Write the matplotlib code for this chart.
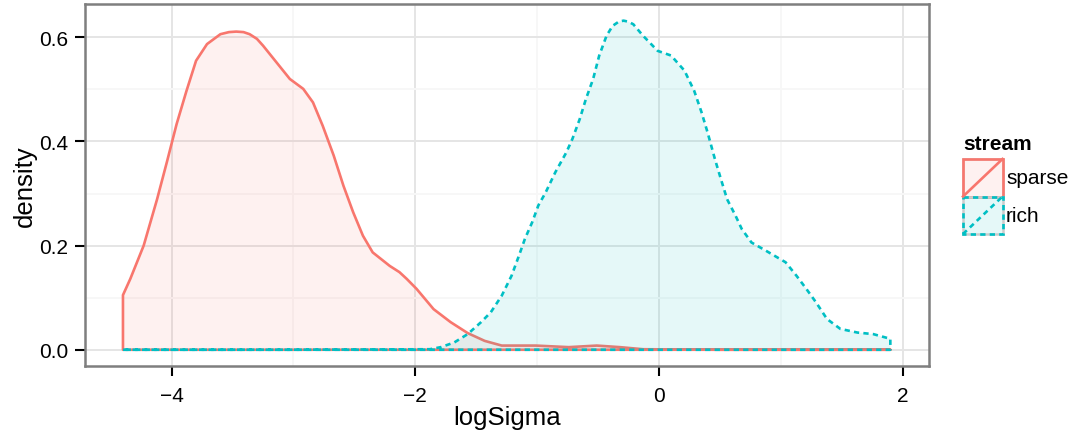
import numpy as np
import matplotlib as mpl
import matplotlib.pyplot as plt
import matplotlib.ticker as ticker
from matplotlib.patches import Rectangle

# density curves (logSigma, density)
sparse_x = [-4.40, -4.34, -4.23, -4.12, -4.04, -3.96, -3.88, -3.80, -3.71, -3.60,
            -3.53, -3.47, -3.41, -3.36, -3.30, -3.25, -3.14, -3.03, -2.92, -2.84,
            -2.76, -2.67, -2.59, -2.51, -2.43, -2.35, -2.21, -2.13, -2.07, -1.99,
            -1.85, -1.71, -1.57, -1.43, -1.29, -1.01, -0.74, -0.51, -0.32, -0.13,
            0.50, 1.20, 1.90]
sparse_y = [0.105, 0.136, 0.200, 0.289, 0.360, 0.433, 0.496, 0.555, 0.587, 0.606,
            0.610, 0.611, 0.610, 0.606, 0.597, 0.584, 0.552, 0.520, 0.501, 0.475,
            0.430, 0.373, 0.315, 0.264, 0.219, 0.187, 0.161, 0.149, 0.136, 0.117,
            0.078, 0.053, 0.032, 0.017, 0.008, 0.008, 0.005, 0.008, 0.005, 0.001,
            0.0, 0.0, 0.0]

rich_x = [-4.40, -3.00, -1.88, -1.79, -1.68, -1.57, -1.46, -1.38, -1.29, -1.21,
          -1.15, -1.10, -1.04, -0.99, -0.93, -0.85, -0.76, -0.71, -0.65, -0.60,
          -0.54, -0.49, -0.43, -0.38, -0.33, -0.29, -0.25, -0.21, -0.13, -0.01,
          0.10, 0.21, 0.29, 0.35, 0.40, 0.46, 0.51, 0.56, 0.63, 0.68,
          0.76, 0.88, 1.04, 1.13, 1.21, 1.29, 1.38, 1.49, 1.63, 1.76, 1.90]
rich_y = [0.0, 0.0, 0.001, 0.005, 0.014, 0.030, 0.053, 0.072, 0.104, 0.142,
          0.180, 0.213, 0.245, 0.277, 0.302, 0.341, 0.379, 0.405, 0.443, 0.481,
          0.520, 0.565, 0.603, 0.622, 0.630, 0.632, 0.630, 0.625, 0.603, 0.574,
          0.565, 0.536, 0.497, 0.456, 0.417, 0.366, 0.327, 0.289, 0.257, 0.232,
          0.206, 0.190, 0.168, 0.142, 0.117, 0.091, 0.059, 0.040, 0.033, 0.030, 0.021]

streams = ["sparse", "rich"]
colors = {"sparse": "#F8766D", "rich": "#00BFC4"}
dash = {"sparse": "-", "rich": (0, (2.0, 1.6))}
curves = {"sparse": (sparse_x, sparse_y), "rich": (rich_x, rich_y)}

x_ticks = [-4, -2, 0, 2]
y_ticks = [0.0, 0.2, 0.4, 0.6]

mpl.rcParams.update({
    "font.family": ["Liberation Sans", "DejaVu Sans"],
})

W, H = 1073, 435
LW = 1.9
fig = plt.figure(figsize=(W / 100, H / 100), dpi=100)
ax = fig.add_axes([84.6 / W, (H - 367.2) / H, 844.1 / W, 362.0 / H])

for i, s in enumerate(streams):
    x, y = curves[s]
    xs = list(x) + [x[-1], x[0]]
    ys = list(y) + [0.0, 0.0]
    ax.fill(xs, ys, facecolor=mpl.colors.to_rgba(colors[s], 0.1),
            edgecolor=colors[s], linewidth=LW, linestyle=dash[s],
            joinstyle="round", zorder=2 + i)

ax.set_xlim(-4.715, 2.215)
ax.set_ylim(-0.0316, 0.6636)
ax.set_xticks(x_ticks)
ax.set_xticklabels(["\u22124", "\u22122", "0", "2"])
ax.set_yticks(y_ticks)
ax.set_yticklabels(["0.0", "0.2", "0.4", "0.6"])
ax.xaxis.set_minor_locator(ticker.MultipleLocator(1))
ax.yaxis.set_minor_locator(ticker.MultipleLocator(0.1))

# theme_bw look
ax.grid(True, which="major", color="#E5E5E5", linewidth=1.4, zorder=0)
ax.grid(True, which="minor", color="#F7F7F7", linewidth=1.4, zorder=0)
ax.set_axisbelow(True)
for sp in ax.spines.values():
    sp.set_color("#7F7F7F")
    sp.set_linewidth(1.8)
ax.tick_params(which="major", length=7, width=1.5, color="black",
               labelsize=15, labelcolor="black")
ax.tick_params(axis="x", which="major", pad=7)
ax.tick_params(axis="y", which="major", pad=5)
ax.tick_params(which="minor", length=0)

ax.set_xlabel("logSigma", fontsize=18.5, labelpad=0)
ax.set_ylabel("density", fontsize=18.5, labelpad=1)

# legend drawn in pixel space to the right of the panel
lax = fig.add_axes([0, 0, 1, 1])
lax.set_xlim(0, W)
lax.set_ylim(H, 0)
lax.axis("off")
lax.text(963, 145, "stream", fontsize=15, fontweight="bold", va="center", ha="left")
key_top = [160, 197.5]
for s, top in zip(streams, key_top):
    lax.add_patch(Rectangle((963, top), 39.5, 37.5, facecolor=mpl.colors.to_rgba(colors[s], 0.1),
                            edgecolor="#CCCCCC", linewidth=1.8))
    lax.add_patch(Rectangle((963, top), 39.5, 37.5, facecolor="none",
                            edgecolor=colors[s], linewidth=LW, linestyle=dash[s]))
    lax.plot([963, 1002.5], [top + 37.5, top], color=colors[s], linewidth=LW,
             linestyle=dash[s])
    lax.text(1006, top + 19, s, fontsize=15, va="center", ha="left")

fig.savefig("out.png", dpi=100)
